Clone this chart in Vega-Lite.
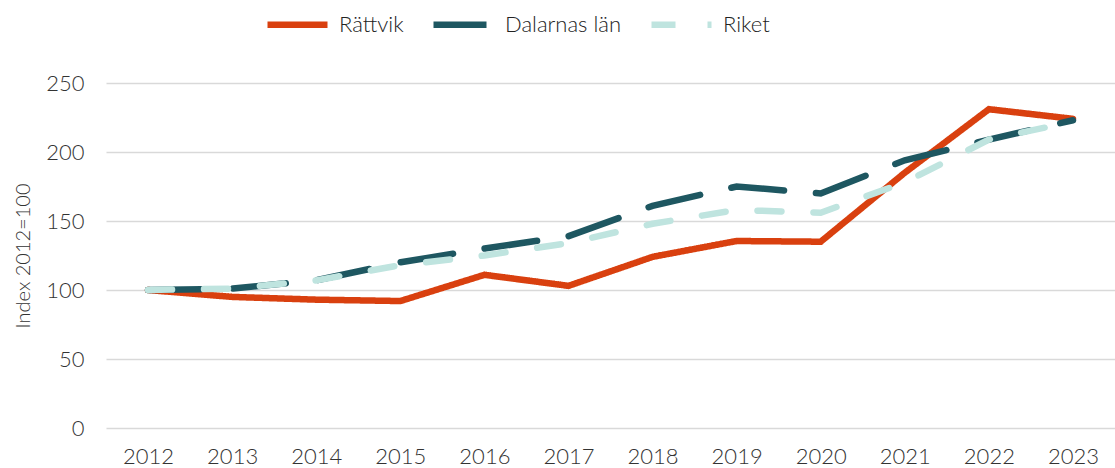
{
  "$schema": "https://vega.github.io/schema/vega-lite/v6.json",
  "width": 1009,
  "height": 345,
  "autosize": {"type": "none"},
  "padding": {"left": 106, "top": 83, "right": 0, "bottom": 40},
  "background": "white",
  "config": {
    "font": "Lato",
    "view": {"stroke": null},
    "axis": {"labelFont": "Lato", "titleFont": "Lato", "labelColor": "#333333", "titleColor": "#333333", "labelFontWeight": 300}
  },
  "data": {
    "values": [
      {"year": "2012", "serie": "Rättvik", "value": 100},
      {"year": "2013", "serie": "Rättvik", "value": 95},
      {"year": "2014", "serie": "Rättvik", "value": 93},
      {"year": "2015", "serie": "Rättvik", "value": 92},
      {"year": "2016", "serie": "Rättvik", "value": 111},
      {"year": "2017", "serie": "Rättvik", "value": 103},
      {"year": "2018", "serie": "Rättvik", "value": 124},
      {"year": "2019", "serie": "Rättvik", "value": 135.5},
      {"year": "2020", "serie": "Rättvik", "value": 135},
      {"year": "2021", "serie": "Rättvik", "value": 185},
      {"year": "2022", "serie": "Rättvik", "value": 231},
      {"year": "2023", "serie": "Rättvik", "value": 224},
      {"year": "2012", "serie": "Dalarnas län", "value": 100},
      {"year": "2013", "serie": "Dalarnas län", "value": 101},
      {"year": "2014", "serie": "Dalarnas län", "value": 107},
      {"year": "2015", "serie": "Dalarnas län", "value": 120},
      {"year": "2016", "serie": "Dalarnas län", "value": 130},
      {"year": "2017", "serie": "Dalarnas län", "value": 139},
      {"year": "2018", "serie": "Dalarnas län", "value": 161},
      {"year": "2019", "serie": "Dalarnas län", "value": 175},
      {"year": "2020", "serie": "Dalarnas län", "value": 170},
      {"year": "2021", "serie": "Dalarnas län", "value": 194},
      {"year": "2022", "serie": "Dalarnas län", "value": 209},
      {"year": "2023", "serie": "Dalarnas län", "value": 223},
      {"year": "2012", "serie": "Riket", "value": 100},
      {"year": "2013", "serie": "Riket", "value": 101},
      {"year": "2014", "serie": "Riket", "value": 107},
      {"year": "2015", "serie": "Riket", "value": 118},
      {"year": "2016", "serie": "Riket", "value": 125},
      {"year": "2017", "serie": "Riket", "value": 134},
      {"year": "2018", "serie": "Riket", "value": 148},
      {"year": "2019", "serie": "Riket", "value": 158},
      {"year": "2020", "serie": "Riket", "value": 156},
      {"year": "2021", "serie": "Riket", "value": 178},
      {"year": "2022", "serie": "Riket", "value": 209},
      {"year": "2023", "serie": "Riket", "value": 222}
    ]
  },
  "mark": {"type": "line", "strokeWidth": 6.5, "strokeCap": "round", "strokeJoin": "miter"},
  "encoding": {
    "x": {
      "field": "year", "type": "ordinal",
      "scale": {"type": "point", "padding": 0.5},
      "axis": {"title": null, "labelAngle": 0, "labelFontSize": 22, "labelPadding": 18, "domain": false, "ticks": false, "grid": false}
    },
    "y": {
      "field": "value", "type": "quantitative",
      "scale": {"domain": [0, 250], "nice": false},
      "axis": {"title": "Index 2012=100", "titleFontSize": 20, "titleFontWeight": 300, "titlePadding": 12,
               "values": [0, 50, 100, 150, 200, 250], "labelFontSize": 22, "labelPadding": 22,
               "domain": false, "ticks": false, "gridColor": "#d9d9d9", "gridWidth": 1.5}
    },
    "color": {
      "field": "serie", "type": "nominal",
      "scale": {"domain": ["Rättvik", "Dalarnas län", "Riket"], "range": ["#D9400F", "#1E5761", "#BFE4DF"]},
      "legend": {"title": null, "orient": "none", "legendX": 158, "legendY": -92, "direction": "horizontal",
                 "symbolType": "stroke", "symbolSize": 3600, "symbolStrokeWidth": 6.5, "labelFontSize": 22,
                 "labelFontWeight": 300, "labelColor": "#222222", "labelOffset": 8, "columnPadding": 16}
    },
    "strokeDash": {
      "field": "serie", "type": "nominal",
      "scale": {"domain": ["Rättvik", "Dalarnas län", "Riket"], "range": [[1, 0], [53, 32], [24, 32]]},
      "legend": {"title": null}
    }
  }
}
